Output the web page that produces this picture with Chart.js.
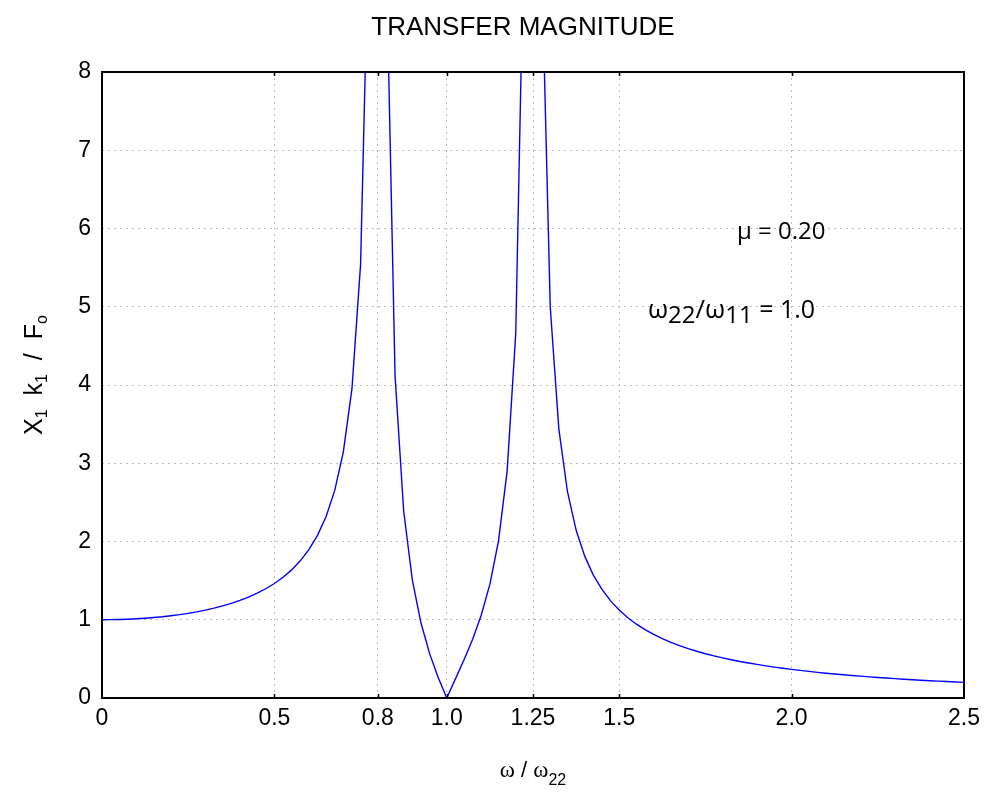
<!DOCTYPE html>
<html>
<head>
<meta charset="utf-8">
<script src="https://cdn.jsdelivr.net/npm/chart.js@4/dist/chart.umd.min.js"></script>
<style>
  html, body { margin: 0; padding: 0; background: #ffffff; }
  #wrap { width: 987px; height: 798px; }
</style>
</head>
<body>
<div id="wrap"><canvas id="c" width="987" height="798"></canvas></div>
<script>
// ---- data ----
const frequencyRatio = [
  0, 0.025, 0.05, 0.075, 0.1, 0.125, 0.15, 0.175, 0.2, 0.225,
  0.25, 0.275, 0.3, 0.325, 0.35, 0.375, 0.4, 0.425, 0.45, 0.475,
  0.5, 0.525, 0.55, 0.575, 0.6, 0.625, 0.65, 0.675, 0.7, 0.725,
  0.75, 0.775, 0.8, 0.825, 0.85, 0.875, 0.9, 0.925, 0.95, 0.975,
  1.0, 1.025, 1.05, 1.075, 1.1, 1.125, 1.15, 1.175, 1.2, 1.225,
  1.25, 1.275, 1.3, 1.325, 1.35, 1.375, 1.4, 1.425, 1.45, 1.475,
  1.5, 1.525, 1.55, 1.575, 1.6, 1.625, 1.65, 1.675, 1.7, 1.725,
  1.75, 1.775, 1.8, 1.825, 1.85, 1.875, 1.9, 1.925, 1.95, 1.975,
  2.0, 2.025, 2.05, 2.075, 2.1, 2.125, 2.15, 2.175, 2.2, 2.225,
  2.25, 2.275, 2.3, 2.325, 2.35, 2.375, 2.4, 2.425, 2.45, 2.475,
  2.5
];
const transferMagnitude = [
  1.000, 1.001, 1.003, 1.007, 1.012, 1.019, 1.028, 1.038, 1.051, 1.065,
  1.082, 1.101, 1.123, 1.148, 1.177, 1.210, 1.247, 1.290, 1.339, 1.396,
  1.463, 1.543, 1.637, 1.753, 1.896, 2.078, 2.319, 2.653, 3.146, 3.956,
  5.545, 10.14, 225.0, 9.359, 4.112, 2.387, 1.509, 0.961, 0.570, 0.263,
  0.000, 0.244, 0.488, 0.752, 1.061, 1.455, 2.009, 2.900, 4.661, 10.11,
  144.0, 9.439, 4.996, 3.437, 2.636, 2.146, 1.813, 1.571, 1.387, 1.241,
  1.124, 1.026, 0.943, 0.873, 0.812, 0.758, 0.711, 0.669, 0.631, 0.597,
  0.566, 0.538, 0.513, 0.489, 0.467, 0.447, 0.429, 0.411, 0.395, 0.380,
  0.366, 0.353, 0.340, 0.328, 0.317, 0.307, 0.297, 0.288, 0.279, 0.270,
  0.262, 0.255, 0.247, 0.240, 0.234, 0.227, 0.221, 0.216, 0.210, 0.205,
  0.200
];
const xTickValues = [0, 0.5, 0.8, 1.0, 1.25, 1.5, 2.0, 2.5];
const xTickLabels = ['0', '0.5', '0.8', '1.0', '1.25', '1.5', '2.0', '2.5'];
const yTickValues = [0, 1, 2, 3, 4, 5, 6, 7, 8];
const yTickLabels = ['0', '1', '2', '3', '4', '5', '6', '7', '8'];
const chartTitle = 'TRANSFER MAGNITUDE';
const annotationMu = 'μ = 0.20';

// ---- helpers ----
function drawRuns(ctx, runs, x, y, align) {
  let total = 0;
  runs.forEach(r => { ctx.font = r.font; r.w = ctx.measureText(r.text).width; total += r.w; });
  let cx = align === 'center' ? x - total / 2 : (align === 'right' ? x - total : x);
  ctx.textAlign = 'left';
  ctx.textBaseline = 'alphabetic';
  runs.forEach(r => { ctx.font = r.font; ctx.fillText(r.text, cx, y + (r.dy || 0)); cx += r.w; });
}

const SANS = '"Liberation Sans", Arial, sans-serif';
const SERIF = '"Liberation Serif", "Times New Roman", serif';
const NOTE = '"Open Sans", "Noto Sans", sans-serif';

const decorPlugin = {
  id: 'decor',
  afterDraw(chart) {
    const ctx = chart.ctx;
    const a = chart.chartArea;
    const xs = chart.scales.x;
    ctx.save();
    // frame
    ctx.strokeStyle = '#000000';
    ctx.lineWidth = 2;
    ctx.strokeRect(a.left, a.top, a.right - a.left, a.bottom - a.top);
    // inward tick marks on top and bottom
    ctx.lineWidth = 1.5;
    xTickValues.forEach(v => {
      if (v <= xs.min || v >= xs.max) return;
      const px = Math.round(xs.getPixelForValue(v)) + 0.5;
      ctx.beginPath();
      ctx.moveTo(px, a.top); ctx.lineTo(px, a.top + 4);
      ctx.moveTo(px, a.bottom); ctx.lineTo(px, a.bottom - 4);
      ctx.stroke();
    });
    ctx.fillStyle = '#000000';
    // title
    drawRuns(ctx, [{ text: chartTitle, font: '26px ' + SANS }], (a.left + a.right) / 2 - 10, 35, 'center');
    // x axis title
    drawRuns(ctx, [
      { text: 'ω', font: '23px ' + SERIF },
      { text: ' / ', font: '22px ' + SANS },
      { text: 'ω', font: '23px ' + SERIF },
      { text: '22', font: '16px ' + SANS, dy: 8 }
    ], (a.left + a.right) / 2, 777, 'center');
    // y axis title (rotated)
    ctx.save();
    ctx.translate(42, 375);
    ctx.rotate(-Math.PI / 2);
    drawRuns(ctx, [
      { text: 'X', font: '25px ' + SANS },
      { text: '1', font: '16px ' + SANS, dy: 5 },
      { text: '  k', font: '25px ' + SANS },
      { text: '1', font: '16px ' + SANS, dy: 5 },
      { text: '  /  F', font: '25px ' + SANS },
      { text: 'o', font: '16px ' + SANS, dy: 5 }
    ], 0, 0, 'center');
    ctx.restore();
    // annotations
    drawRuns(ctx, [{ text: annotationMu, font: '24px ' + NOTE }], 737, 239, 'left');
    drawRuns(ctx, [
      { text: 'ω', font: '26px ' + NOTE },
      { text: '22', font: '24px ' + NOTE, dy: 5 },
      { text: '/', font: '26px ' + NOTE },
      { text: 'ω', font: '26px ' + NOTE },
      { text: '11', font: '24px ' + NOTE, dy: 5 },
      { text: ' = 1.0', font: '25px ' + NOTE }
    ], 648, 318, 'left');
    ctx.restore();
  }
};

const points = frequencyRatio.map((x, i) => ({ x: x, y: transferMagnitude[i] }));

new Chart(document.getElementById('c'), {
  type: 'line',
  data: {
    datasets: [{
      data: points,
      borderColor: '#0000ff',
      borderWidth: 1.4,
      pointRadius: 0,
      tension: 0,
      fill: false
    }]
  },
  options: {
    responsive: false,
    animation: false,
    devicePixelRatio: 1,
    layout: { padding: { top: 72, right: 23, left: 0, bottom: 0 } },
    plugins: { legend: { display: false }, title: { display: false }, tooltip: { enabled: false } },
    scales: {
      x: {
        type: 'linear',
        min: 0, max: 2.5,
        afterBuildTicks: s => { s.ticks = xTickValues.map(v => ({ value: v })); },
        afterFit: s => { s.height = 100; },
        ticks: {
          autoSkip: false, maxRotation: 0, minRotation: 0,
          padding: 7, color: '#000000',
          font: { family: SANS, size: 23 },
          callback: (v, i) => xTickLabels[i]
        },
        grid: { color: '#bcbcbc', lineWidth: 1, drawTicks: false },
        border: { display: false, dash: [2, 4] }
      },
      y: {
        type: 'linear',
        min: 0, max: 8,
        afterBuildTicks: s => { s.ticks = yTickValues.map(v => ({ value: v })); },
        afterFit: s => { s.width = 102; },
        ticks: {
          autoSkip: false, padding: 11, color: '#000000',
          font: { family: SANS, size: 23 },
          callback: (v, i) => yTickLabels[i]
        },
        grid: { color: '#bcbcbc', lineWidth: 1, drawTicks: false },
        border: { display: false, dash: [2, 4] }
      }
    }
  },
  plugins: [decorPlugin]
});
</script>
</body>
</html>
